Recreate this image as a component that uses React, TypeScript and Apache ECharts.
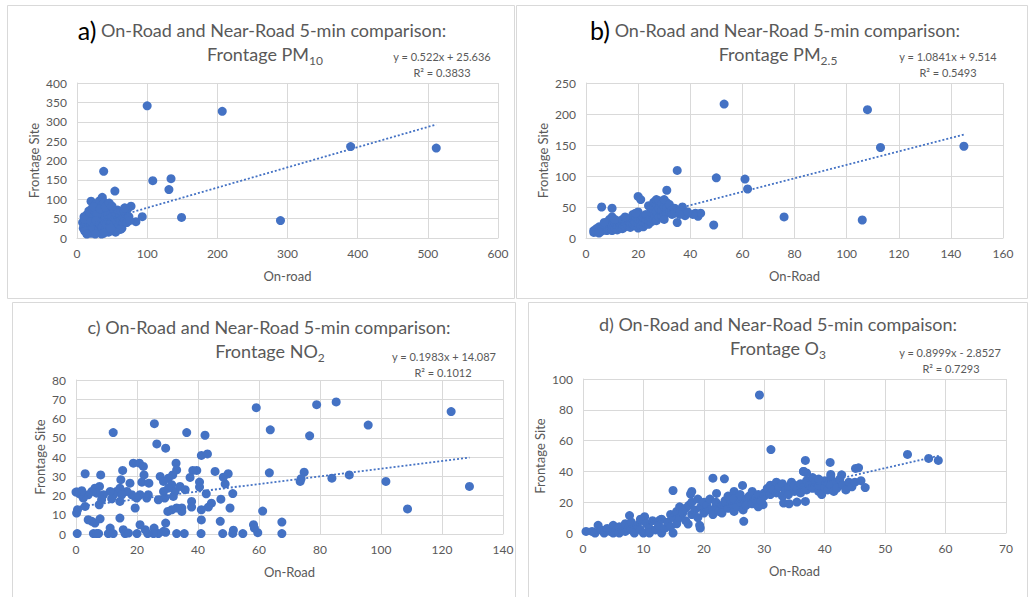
import React, { useEffect, useRef } from "react";
import * as echarts from "echarts";

const BLUE = "#4472C4";
const GRAY = "#595959";
const GRIDC = "#d9d9d9";
const FONT = "Lato";

// ---------- data ----------
const pm10Points: number[][] = [
  [100, 341], [207, 327], [390, 236], [512, 232], [38, 172], [108, 148], [134, 153], [131, 125],
  [54, 121], [149, 53], [290, 45], [93, 55], [84, 42], [77, 82],
  [8, 40], [10, 30], [10, 55], [12, 22], [12, 45], [14, 35], [14, 60], [15, 15], [16, 28], [16, 50],
  [17, 70], [18, 20], [18, 40], [19, 62], [20, 95], [20, 12], [21, 33], [22, 48], [22, 78], [23, 25],
  [24, 58], [25, 18], [25, 40], [26, 68], [27, 88], [28, 30], [28, 52], [29, 15], [30, 75], [30, 42],
  [31, 22], [32, 62], [32, 96], [33, 35], [34, 50], [35, 82], [35, 18], [36, 105], [36, 28], [37, 65],
  [38, 45], [39, 92], [40, 20], [40, 55], [41, 72], [42, 35], [43, 86], [44, 25], [44, 60], [45, 48],
  [46, 78], [47, 30], [48, 65], [49, 42], [50, 20], [50, 55], [52, 35], [53, 70], [54, 50], [55, 28],
  [56, 62], [57, 40], [58, 72], [59, 52], [60, 33], [61, 60], [62, 45], [63, 68], [64, 25], [65, 55],
  [66, 38], [67, 70], [68, 48], [70, 62], [71, 40], [72, 75], [74, 55], [75, 45], [68, 78], [62, 22],
  [55, 15], [45, 15], [35, 10], [26, 10], [19, 28], [13, 38], [11, 48], [24, 80], [29, 62], [33, 75],
  [40, 80], [46, 90], [50, 82], [9, 25], [11, 18], [14, 10], [20, 42], [27, 45], [38, 12], [48, 25],
];

const pm25Points: number[][] = [
  [53, 216], [108, 207], [113, 146], [145, 148], [35, 109], [50, 97], [61, 95], [62, 79], [31, 77],
  [76, 34], [106, 29], [49, 21], [6, 50], [10, 48], [20, 67], [21, 62], [24, 52], [42, 40], [43, 35],
  [44, 40], [41, 38], [37, 50], [38, 36], [35, 25], [31, 57],
  [3, 12], [4, 10], [4, 15], [5, 13], [5, 18], [6, 11], [6, 16], [7, 14], [7, 20], [8, 12], [8, 18],
  [8, 25], [9, 15], [9, 30], [10, 12], [10, 20], [10, 34], [11, 16], [11, 24], [12, 13], [12, 20],
  [12, 28], [13, 18], [13, 24], [14, 15], [14, 22], [14, 30], [15, 18], [15, 26], [16, 20], [16, 28],
  [17, 17], [17, 24], [17, 32], [18, 22], [18, 30], [18, 38], [19, 20], [19, 26], [19, 35], [20, 16],
  [20, 24], [20, 30], [20, 42], [21, 20], [21, 28], [21, 36], [22, 18], [22, 26], [22, 33], [23, 24],
  [23, 30], [24, 22], [24, 28], [24, 35], [25, 26], [25, 32], [25, 45], [26, 30], [26, 38], [26, 52],
  [26, 58], [27, 28], [27, 42], [27, 55], [27, 62], [28, 34], [28, 48], [28, 60], [29, 36], [29, 44],
  [29, 55], [30, 38], [30, 50], [30, 62], [31, 40], [31, 48], [32, 42], [32, 54], [33, 45], [33, 38],
  [34, 48], [34, 40], [36, 45], [36, 38], [39, 42], [30, 30], [23, 38], [19, 40], [15, 34], [11, 30],
  [7, 25], [3, 9], [5, 8],
];

const no2Points: number[][] = [
  [12.2, 52.7], [25.7, 57.3], [26.5, 46.8], [29.4, 44.6], [36.3, 52.7], [42.3, 51.3], [41.1, 40.8],
  [43.1, 41.6], [59.1, 65.6], [63.7, 54.1], [78.9, 67.2], [85.3, 68.6], [76.6, 51], [95.8, 56.6],
  [123, 63.6], [129, 24.7], [108.7, 13], [101.6, 27.3], [89.6, 30.7], [83.9, 29], [74.8, 32.1],
  [73.5, 27.3], [73.8, 28.7], [63.4, 31.8], [61.2, 11.9], [67.5, 6.2], [67.5, 0.2], [59.6, 0.7],
  [58.2, 4.8], [58.5, 3], [54.7, 0.2], [51.4, 0.3], [51.6, 2], [50.5, 13.5], [51.4, 21], [48.9, 26],
  [49.9, 31.3], [48.3, 29.5], [45.6, 32.5], [47.5, 18.1], [47.3, 6.6], [48.1, 0.2], [44.4, 16],
  [43.4, 14], [42.7, 20.9], [40.5, 27], [40.5, 24.4], [39.6, 33], [38.3, 33], [37.4, 29.4],
  [37.9, 16.9], [37.9, 14], [41.1, 7.3], [41.1, 12.6], [41, 0.2], [35.5, 0.2], [33, 0.2], [34.7, 13.5],
  [34.7, 11.7], [33, 13.5], [31.4, 12.6], [30.1, 11.7], [29.4, 5.7], [29.4, 0.9], [28.7, 1.4],
  [27, 0.2], [25.6, 3.1], [25.4, 0.2], [23.5, 0.2], [22.7, 2.2], [21, 4.8], [20, 0.2], [32.8, 36.8],
  [33, 33.3], [31.7, 30.7], [30.3, 29], [27.6, 29.9], [28.7, 27.3], [31.4, 25.6], [32.5, 22.1],
  [31.9, 19.5], [29.1, 18.7], [27, 17.8], [28.7, 22.1], [34.1, 24.7], [35.8, 23], [30.3, 23.8],
  [18.8, 36.8], [20.8, 36.8], [22.1, 35.1], [22.3, 30.7], [21.6, 26.9], [23.9, 26.4], [23.7, 20.4],
  [23.2, 18.7], [21, 20.4], [19.9, 18.7], [19.4, 13.5], [18.3, 20.4], [17.7, 26.4], [16.7, 22.1],
  [15.3, 33], [14.7, 28.2], [14.4, 23.8], [13.3, 22.1], [12.3, 20.4], [11.7, 18.3], [14.4, 16.9],
  [15, 20.4], [11.2, 22.1], [14.4, 8.3], [11.2, 3.1], [10.6, 0.2], [12.2, 0.2], [15.5, 2.2],
  [16.1, 0.2], [17.2, 0.5], [3, 31.3], [8.1, 30.7], [7.7, 24.7], [6.2, 23.8], [6.8, 21.2], [5.2, 22.1],
  [4, 20.4], [9, 20.4], [8.4, 17.8], [7.6, 15.2], [2.4, 18.7], [1.3, 20.7], [0.4, 21.8], [1.9, 22.5],
  [0, 21.8], [0.5, 12.6], [0.2, 10.9], [3, 14.3], [4, 7.4], [5.2, 6.6], [6.2, 5.7], [7.9, 7.9],
  [5.7, 0.2], [6.8, 0.2], [7.4, 0.2], [0.4, 0.2],
];

const o3Points: number[][] = [
  [29.2, 89.6], [31.1, 54.2], [53.7, 51], [57.2, 48.4], [58.8, 47.1], [40.9, 45.8], [36.8, 47.1],
  [45.1, 41.9], [45.6, 42.3], [42.8, 37.8], [36.5, 40], [21.5, 35.6], [23.4, 35.2], [26.4, 30.9],
  [14.9, 27.6], [18.0, 27], [17.8, 25.3], [22.1, 25.7], [29.8, 18.4], [33.2, 19.4], [34.1, 19],
  [35.4, 20.1], [36.8, 20.5], [26.6, 7.6], [17.4, 5.8], [19.4, 3.2], [19.3, 5], [14.9, 0],
  [7.7, 11.3], [10.2, 10.6], [12.7, 8.4],
  [0.5, 1], [1.5, 1], [2, 0], [2.5, 5], [3, 2], [3.5, 0], [4, 3], [4.5, 1], [5, 5], [5, 0], [5.5, 2],
  [6, 4], [6, 0], [6.5, 2], [7, 6], [7, 1], [7.5, 3], [8, 7], [8, 2], [8.5, 0], [9, 5], [9.5, 9],
  [9.5, 2], [10, 0], [10.5, 6], [11, 3], [11, 0], [11.5, 8], [12, 2], [12.5, 5], [13, 9], [13, 0],
  [13.5, 3], [14, 7], [14.5, 12], [14.5, 4], [15, 10], [15.5, 6],
  [15.5, 14], [16, 17], [16, 10], [16.5, 13], [17, 16], [17, 8], [17.5, 18], [18, 12], [18, 20],
  [18.5, 15], [19, 22], [19, 10], [19.5, 17], [20, 13], [20, 20], [20.5, 18], [21, 15], [21, 22],
  [21.5, 12], [22, 17], [22, 20], [22.5, 14], [23, 18], [23, 13], [23.5, 21], [24, 16], [24, 24],
  [24.5, 19], [25, 14], [25, 27], [25, 22], [25.5, 17], [26, 20], [26, 25], [26.5, 15], [27, 22],
  [27, 18], [27.5, 24], [28, 19], [28, 27], [28.5, 22], [29, 25], [29, 17], [29.5, 21], [30, 26],
  [30, 24], [30.5, 29],
  [31, 25], [31, 31], [31.5, 28], [32, 33], [32, 26], [32.5, 30], [33, 24], [33, 32], [33.5, 28],
  [34, 30], [34, 25], [34.5, 33], [35, 27], [35, 31], [35.5, 29], [36, 32], [36, 26], [36.5, 30],
  [37, 34], [37, 28], [37.5, 31], [38, 36], [38, 29], [38.5, 33], [39, 27], [39, 31], [39.5, 25],
  [40, 30], [40, 34], [40.5, 28], [41, 36], [41, 31], [41.5, 27], [42, 33], [42, 29], [42.5, 35],
  [43, 31], [43.5, 28], [44, 33], [44.5, 30], [45, 33], [46, 34], [46.7, 29.5], [41, 38], [39, 35],
  [37, 39], [36.5, 40],
];

// trendline equations shown on the chart
const trendSlopes = [0.522, 1.0841, 0.1983, 0.8999];
const trendIntercepts = [25.636, 9.514, 14.087, -2.8527];
const trendRanges = [[8, 512], [3, 145], [0, 129], [0.5, 59]];
const eqLabels = ["y = 0.522x + 25.636", "y = 1.0841x + 9.514", "y = 0.1983x + 14.087", "y = 0.8999x - 2.8527"];
const r2Labels = ["R² = 0.3833", "R² = 0.5493", "R² = 0.1012", "R² = 0.7293"];

// axes
const xMax = [600, 160, 140, 70];
const xStep = [100, 20, 20, 10];
const yMax = [400, 250, 80, 100];
const yStep = [50, 50, 10, 20];
const xNames = ["On-road", "On-Road", "On-Road", "On-Road"];
const yName = "Frontage Site";
const titleLetters = ["a)", "b)", "c)", "d)"];
const titleLine1 = [
  "On-Road and Near-Road 5-min comparison:",
  "On-Road and Near-Road 5-min comparison:",
  "On-Road and Near-Road 5-min comparison:",
  "On-Road and Near-Road 5-min compaison:",
];
const titleLine2Base = ["Frontage PM", "Frontage PM", "Frontage NO", "Frontage O"];
const titleLine2Sub = ["10", "2.5", "2", "3"];
const allPoints = [pm10Points, pm25Points, no2Points, o3Points];

// layout
const grids = [
  { left: 77, top: 83, width: 421, height: 155 },
  { left: 586, top: 83, width: 417, height: 155 },
  { left: 76, top: 380, width: 427, height: 154 },
  { left: 583, top: 379, width: 423, height: 154 },
];
const yNameGaps = [37, 37, 30, 37];
const title1Pos = [[262, 30], [775, 30], [269, 327], [778, 324]];
const title2Pos = [[265, 54], [778, 54], [270, 351], [778, 348]];
const eqPos = [[442, 56], [948, 56], [444, 356], [950, 352]];
const r2Pos = [[442, 72], [948, 72], [443, 372], [951, 368]];
const boxes = [
  [7, 5, 507, 293],
  [516, 5, 511, 293],
  [12, 302, 503, 300],
  [528, 302, 499, 300],
];

export default function App() {
  const ref = useRef<HTMLDivElement>(null);
  useEffect(() => {
    if (!ref.current) return;
    const chart = echarts.init(ref.current, undefined, { renderer: "svg" });

    const xAxis = grids.map((_, i) => ({
      type: "value",
      gridIndex: i,
      min: 0,
      max: xMax[i],
      interval: xStep[i],
      name: xNames[i],
      nameLocation: "middle",
      nameGap: 31,
      nameTextStyle: { color: GRAY, fontSize: 13, fontFamily: FONT },
      axisLine: { show: true, lineStyle: { color: GRIDC, width: 1 } },
      axisTick: { show: false },
      axisLabel: { color: GRAY, fontSize: 12, fontFamily: FONT, margin: 9 },
      splitLine: { show: true, lineStyle: { color: GRIDC, width: 1 } },
    }));
    const yAxis = grids.map((_, i) => ({
      type: "value",
      gridIndex: i,
      min: 0,
      max: yMax[i],
      interval: yStep[i],
      name: yName,
      nameLocation: "middle",
      nameGap: yNameGaps[i],
      nameTextStyle: { color: GRAY, fontSize: 13, fontFamily: FONT },
      axisLine: { show: true, lineStyle: { color: GRIDC, width: 1 } },
      axisTick: { show: false },
      axisLabel: { color: GRAY, fontSize: 12, fontFamily: FONT, margin: 10 },
      splitLine: { show: true, lineStyle: { color: GRIDC, width: 1 } },
    }));

    const series: any[] = [];
    allPoints.forEach((pts, i) => {
      series.push({
        type: "scatter",
        xAxisIndex: i,
        yAxisIndex: i,
        data: pts,
        symbol: "circle",
        symbolSize: 9,
        itemStyle: { color: BLUE, opacity: 1 },
        z: 2,
      });
      const [x0, x1] = trendRanges[i];
      series.push({
        type: "line",
        xAxisIndex: i,
        yAxisIndex: i,
        data: [
          [x0, trendSlopes[i] * x0 + trendIntercepts[i]],
          [x1, trendSlopes[i] * x1 + trendIntercepts[i]],
        ],
        symbol: "none",
        lineStyle: { color: BLUE, width: 1.8, type: [2, 2] },
        z: 3,
        silent: true,
      });
    });

    const graphics: any[] = [];
    boxes.forEach(([x, y, w, h]) => {
      graphics.push({
        type: "rect",
        shape: { x: x + 0.5, y: y + 0.5, width: w, height: h },
        style: { fill: "none", stroke: GRIDC, lineWidth: 1 },
        z: -1,
      });
    });
    titleLetters.forEach((letter, i) => {
      const big = i < 2;
      graphics.push({
        type: "text",
        x: title1Pos[i][0],
        y: title1Pos[i][1],
        style: {
          text: `{l|${letter}} ${titleLine1[i]}`,
          font: `18px ${FONT}`,
          fill: GRAY,
          align: "center",
          verticalAlign: "middle",
          rich: {
            l: big
              ? { fontSize: 25, fontFamily: FONT, fill: "#000000" }
              : { fontSize: 18, fontFamily: FONT, fill: GRAY },
          },
        },
      });
      graphics.push({
        type: "text",
        x: title2Pos[i][0],
        y: title2Pos[i][1],
        style: {
          text: `${titleLine2Base[i]}{s|${titleLine2Sub[i]}}`,
          font: `18px ${FONT}`,
          fill: GRAY,
          lineHeight: 24,
          align: "center",
          verticalAlign: "middle",
          rich: {
            s: { fontSize: 12, fontFamily: FONT, fill: GRAY, lineHeight: 12, verticalAlign: "bottom" },
          },
        },
      });
      graphics.push({
        type: "text",
        x: eqPos[i][0],
        y: eqPos[i][1],
        style: {
          text: eqLabels[i],
          font: `11px ${FONT}`,
          fill: GRAY,
          align: "center",
          verticalAlign: "middle",
        },
      });
      graphics.push({
        type: "text",
        x: r2Pos[i][0],
        y: r2Pos[i][1],
        style: {
          text: r2Labels[i],
          font: `11px ${FONT}`,
          fill: GRAY,
          align: "center",
          verticalAlign: "middle",
        },
      });
    });

    chart.setOption({
      animation: false,
      backgroundColor: "#ffffff",
      grid: grids.map((g) => ({ ...g, containLabel: false })),
      xAxis,
      yAxis,
      series,
      graphic: graphics,
    });
    return () => chart.dispose();
  }, []);

  return (
    <div
      ref={ref}
      style={{ position: "fixed", left: 0, top: 0, width: 1029, height: 597, background: "#fff" }}
    />
  );
}
